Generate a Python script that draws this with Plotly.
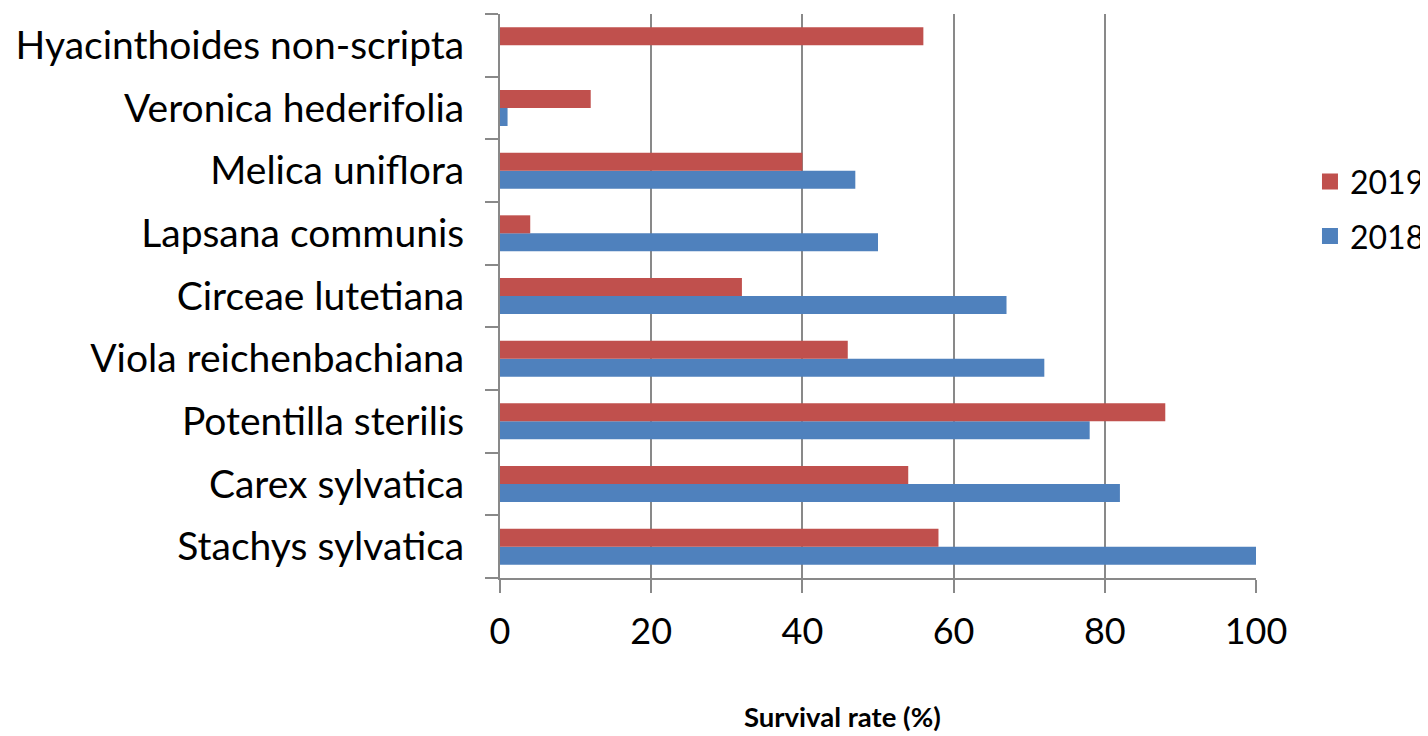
import plotly.graph_objects as go

species = ["Stachys sylvatica", "Carex sylvatica", "Potentilla sterilis",
           "Viola reichenbachiana", "Circeae lutetiana", "Lapsana communis",
           "Melica uniflora", "Veronica hederifolia", "Hyacinthoides non-scripta"]
rate_2018 = [100, 82, 78, 72, 67, 50, 47, 1, None]
rate_2019 = [58, 54, 88, 46, 32, 4, 40, 12, 56]
x_ticks = [0, 20, 40, 60, 80, 100]

FONT = "Lato, Open Sans, sans-serif"
GRID = "#898989"
BLUE = "#4F81BD"
RED = "#C0504D"

fig = go.Figure()
fig.add_trace(go.Bar(y=species, x=rate_2018, orientation="h", name="2018",
                     marker=dict(color=BLUE, line=dict(width=0)), showlegend=False))
fig.add_trace(go.Bar(y=species, x=rate_2019, orientation="h", name="2019",
                     marker=dict(color=RED, line=dict(width=0)), showlegend=False))
# legend entries (larger square symbols)
fig.add_trace(go.Scatter(x=[None], y=[None], mode="markers", name="2019",
                         marker=dict(symbol="square", size=20, color=RED),
                         legendgroup="b", showlegend=True))
fig.add_trace(go.Scatter(x=[None], y=[None], mode="markers", name="2018",
                         marker=dict(symbol="square", size=20, color=BLUE),
                         legendgroup="a", showlegend=True))

fig.update_layout(
    width=1428, height=736,
    margin=dict(l=492, r=180, t=6, b=166, pad=0),
    paper_bgcolor="white", plot_bgcolor="white",
    barmode="group", bargap=0.425, bargroupgap=0,
    font=dict(family=FONT, color="black"),
    showlegend=True,
    legend=dict(x=1.0714, y=0.654, xanchor="left", yanchor="middle",
                traceorder="grouped", tracegroupgap=10,
                font=dict(size=32, family=FONT), itemwidth=30,
                bgcolor="rgba(0,0,0,0)"),
    xaxis=dict(range=[0, 100], tickvals=x_ticks, showgrid=True, gridcolor=GRID,
               gridwidth=2, showline=True, linecolor=GRID, linewidth=2,
               ticks="outside", ticklen=13, tickcolor=GRID, tickwidth=2,
               tickfont=dict(size=36, family=FONT), zeroline=False,
               ticklabelstandoff=8, automargin=False),
    yaxis=dict(showline=True, linecolor=GRID, linewidth=2, ticks="outside",
               tickson="boundaries", ticklen=13, tickcolor=GRID, tickwidth=2,
               tickfont=dict(size=39, family=FONT), showgrid=False,
               ticklabelstandoff=26, automargin=False),
    annotations=[dict(text="<b>Survival rate (%)</b>", xref="paper", yref="paper",
                      x=0.4524, y=-0.2447, xanchor="center", yanchor="middle",
                      showarrow=False, font=dict(size=27.5, family=FONT))],
)

fig.write_html("out.html")
